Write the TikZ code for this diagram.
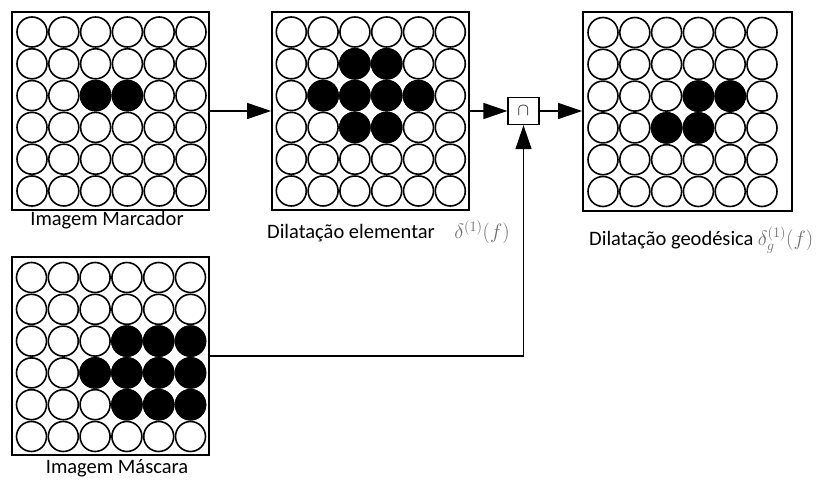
\documentclass[tikz,border=0pt]{standalone}
\usepackage{fontspec}
\setmainfont{Carlito}
\usetikzlibrary{arrows.meta}
\definecolor{mathgray}{HTML}{6E6E6E}
\begin{document}
\begin{tikzpicture}[x=1pt,y=-1pt,
  panel/.style={draw, line width=1.8pt, inner sep=0pt, minimum width=197pt, minimum height=198pt},
  pix/.style={circle, draw, line width=1.6pt, inner sep=0pt, minimum size=30pt},
  pixon/.style={pix, fill=black},
  arr/.style={line width=1.3pt, -{Triangle[length=24pt,width=16pt]}},
  lbl/.style={font=\fontsize{20.5}{24}\selectfont, inner sep=0pt},
  mlbl/.style={font=\fontsize{21}{24}\selectfont, text=mathgray, inner sep=0pt},
  opbox/.style={draw, line width=1.3pt, inner sep=0pt, minimum width=31pt, minimum height=27pt,
    font=\fontsize{17}{18}\selectfont}]
\useasboundingbox (0,0) rectangle (819,481);

% 6x6 grid of pixels: name, centre x, centre y, list of black cells row/col
\newcommand\pixgrid[4]{%
  \foreach \r in {1,...,6} \foreach \c in {1,...,6}
    \node[pix] (#1-\r-\c) at ({#2+(\c-3.5)*31.8},{#3+(\r-3.5)*31.8}) {};
  \foreach \r/\c in {#4}
    \node[pixon] (#1-on-\r-\c) at ({#2+(\c-3.5)*31.8},{#3+(\r-3.5)*31.8}) {};
}

% marker image
\node[panel] (marker) at (110.5,111) {};
\pixgrid{mk}{111.5}{111.5}{3/3,3/4}
\node[lbl] (markerlbl) at (107,220) {Imagem Marcador};

% elementary dilation
\node[panel] (dil) at (370.5,111) {};
\pixgrid{dl}{370.8}{111.5}{2/3,2/4,3/2,3/3,3/4,3/5,4/3,4/4}
\node[lbl] (dillbl) at (351,233) {Dilatação elementar};
\node[mlbl] (dilmath) at (482,232) {$\delta^{(1)}(f)$};

% intersection operator
\node[opbox] (cap) at (523.5,111) {$\cap$};

% geodesic dilation
\node[panel, minimum width=209pt, minimum height=199pt] (geo) at (687.5,111.5) {};
\pixgrid{gd}{682.5}{112}{3/4,3/5,4/3,4/4}
\node[lbl, anchor=west] (geolbl) at (589,240) {Dilatação geodésica};
\node[mlbl, anchor=west] (geomath) at ([xshift=4pt]geolbl.east) {$\delta_g^{(1)}(f)$};

% mask image
\node[panel] (mask) at (110.5,356) {};
\pixgrid{ms}{111}{357}{3/4,3/5,3/6,4/3,4/4,4/5,4/6,5/4,5/5,5/6}
\node[lbl] (masklbl) at (117,468) {Imagem Máscara};

% connectors
\draw[arr] (marker.east) -- (dil.west);
\draw[arr] (dil.east) -- (cap.west);
\draw[arr] (cap.east) -- (geo.west |- cap.east);
\draw[arr] (mask.east) -| (cap.south);
\end{tikzpicture}
\end{document}
